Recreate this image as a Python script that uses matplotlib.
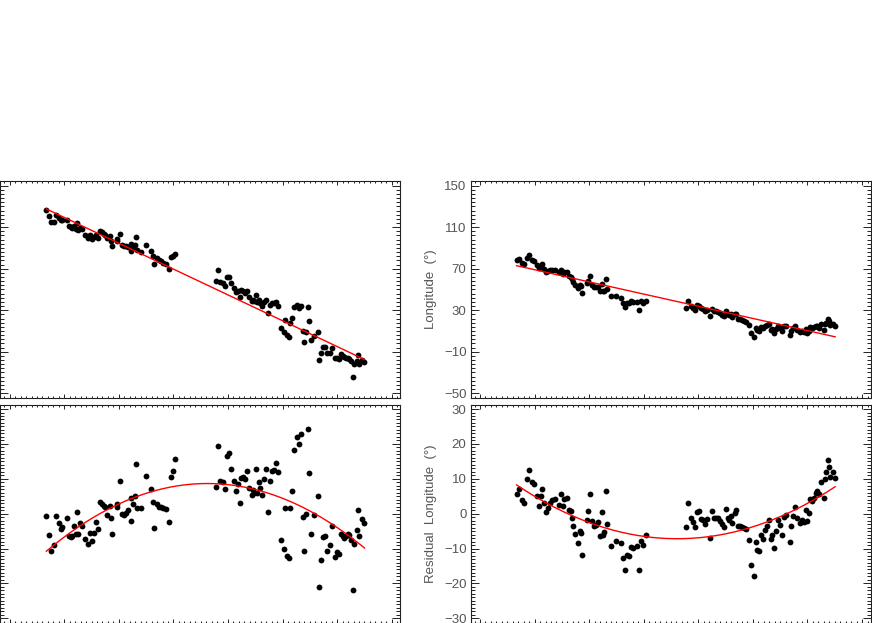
import matplotlib.pyplot as plt
import numpy as np

# time (arbitrary units) and residuals
t_left = [32.0, 32.8, 33.5, 34.2, 35.0, 35.7, 36.3, 36.8, 38.2, 38.8, 39.3, 39.7, 40.3, 40.8, 41.2,
          41.6, 42.0, 42.8, 43.6, 44.6, 45.1, 45.7, 46.2, 47.0, 47.6, 48.2, 48.7, 49.2, 49.7, 50.2,
          51.0, 51.4, 51.8, 53.1, 53.3, 54.0, 54.8, 55.3, 55.8, 56.6, 57.3, 57.5, 58.1, 58.5, 58.8,
          59.3, 60.5, 62.1, 63.4, 64.1, 64.5, 65.3, 65.9, 66.5, 67.2, 68.0, 68.8, 69.4, 70.0, 70.7,
          83.1, 83.7, 84.3, 85.0, 85.7, 86.3, 86.9, 87.5, 88.5, 89.0, 89.5, 90.1, 90.5, 91.1, 91.8,
          92.3, 93.0, 93.7, 94.2, 94.5, 95.0, 95.3, 95.8, 96.3, 96.9, 97.5, 98.1, 98.6, 99.1, 99.8,
          100.3, 100.9, 101.6, 102.6, 103.3, 103.8, 104.3, 104.8, 105.3, 105.9, 106.5, 107.2, 107.9,
          108.5, 109.1, 109.3, 109.9, 110.5, 111.0, 111.6, 112.5, 113.5, 114.0, 114.6, 115.0, 115.6,
          116.4, 117.2, 117.9, 118.6, 119.2, 119.9, 120.5, 121.1, 121.6, 122.1, 122.6, 123.1, 123.6,
          124.1, 124.6, 125.3, 125.6, 126.1, 127.0, 127.6]
res_left = [-0.8, -6.0, -10.6, -8.9, -0.8, -2.7, -4.4, -3.8, -1.1, -6.5, -6.7, -6.3, -3.6, -5.7, 0.4,
            -5.7, -2.7, -3.4, -7.3, -8.6, -5.6, -7.7, -5.6, -2.4, -4.3, 3.4, 2.8, 2.1, 1.8, -0.5,
            2.3, -1.2, -5.8, 2.8, 1.8, 9.3, 0.0, -0.4, 0.2, 1.1, -2.1, 4.5, 2.8, 5.0, 14.1,
            1.6, 1.6, 10.7, 7.1, 3.3, -4.1, 2.8, 1.9, 1.8, 1.6, 1.3, -2.5, 10.5, 12.2, 15.6,
            7.7, 19.3, 9.4, 9.0, 7.1, 16.5, 17.4, 12.8, 9.5, 6.4, 8.5, 3.1, 10.2, 10.4, 9.8,
            12.2, 7.4, 5.3, 6.9, 5.9, 12.8, 5.9, 9.0, 7.4, 5.3, 10.0, 12.8, 0.5, 9.3, 12.2,
            12.6, 14.4, 12.0, -7.5, -10.0, 1.6, -12.2, -12.7, 1.6, 6.6, 18.2, 22.0, 20.0,
            22.9, -0.9, -10.8, -0.1, 24.3, 11.7, -5.7, -0.4, 5.2, -20.9, -13.2, -6.7, -6.3,
            -10.7, -9.1, -3.6, -12.4, -11.1, -11.5, -5.7, -6.3, -7.1, -6.5, -5.7, -6.2, -7.5,
            -22.0, -8.6, -4.8, 1.1, -6.5, -1.5, -2.7]

t_right = [32.0, 32.7, 33.5, 34.3, 35.0, 35.7, 36.5, 37.2, 38.0, 38.8, 39.2, 39.7, 40.3, 40.8, 41.3,
           42.0, 42.7, 43.4, 44.6, 45.2, 45.8, 46.3, 47.0, 47.6, 48.2, 48.5, 49.0, 49.6, 50.3, 51.0,
           51.3, 51.7, 53.0, 53.3, 54.0, 54.6, 55.3, 56.0, 56.6, 57.2, 57.8, 58.1, 58.4, 58.9, 59.2,
           60.4, 62.0, 63.4, 64.0, 64.6, 65.2, 65.8, 66.4, 67.0, 68.2, 68.8, 69.4, 70.0, 70.8,
           83.0, 83.6, 84.3, 85.0, 85.7, 86.2, 86.8, 87.5, 88.1, 88.7, 89.3, 90.0, 90.6, 91.2, 91.8,
           92.4, 93.0, 93.6, 94.3, 94.9, 95.4, 95.8, 96.3, 96.8, 97.5, 98.0, 98.6, 99.2, 99.8, 100.4,
           101.0, 101.7, 102.4, 103.2, 103.8, 104.3, 104.8, 105.3, 105.9, 106.5, 107.2, 107.8, 108.4,
           108.8, 109.3, 109.8, 110.4, 111.0, 111.6, 112.2, 112.8, 114.0, 114.6, 115.1, 115.7, 116.4,
           117.2, 117.8, 118.4, 119.0, 119.4, 119.8, 120.3, 120.8, 121.3, 121.9, 122.4, 122.9, 123.6,
           124.3, 124.8, 125.1, 125.5, 125.8, 126.3, 127.0, 127.7]
res_right = [5.5, 7.2, 4.0, 3.1, 9.8, 12.6, 9.0, 8.5, 5.0, 2.3, 5.0, 7.1, 3.1, 0.4, 1.6,
             3.1, 3.8, 4.2, 2.6, 5.5, 2.3, 4.2, 4.5, 1.0, 0.7, -1.2, -3.4, -5.7, -8.4, -5.1,
             -5.6, -11.9, -1.9, 0.9, 5.6, -2.2, -3.6, -3.2, -2.5, -6.3, 0.4, -6.0, -5.3, 6.5, -2.9,
             -9.2, -7.9, -8.4, -12.7, -16.1, -11.8, -12.2, -9.6, -9.9, -9.2, -16.1, -7.7, -8.9, -6.0,
             -3.8, 3.1, -1.2, -2.5, -3.9, 0.5, 0.7, -1.5, -1.7, -3.0, -1.5, -7.0, 0.7, -1.2, -1.2,
             -1.2, -2.2, -3.0, -3.8, 1.3, -1.2, -1.7, -0.8, -2.7, 0.2, 1.0, -3.6, -3.6, -3.8, -4.1,
             -4.4, -7.5, -14.6, -17.8, -8.2, -10.5, -10.6, -6.2, -7.2, -4.8, -3.6, -1.7, -7.3,
             -6.0, -9.9, -5.1, -1.7, -3.3, -6.0, -1.0, -0.3, -8.2, -3.6, -0.8, 1.9, -1.2,
             -2.7, -1.7, -2.5, 1.0, -2.2, 0.2, 4.3, 3.5, 4.5, 5.9, 6.4, 5.5, 9.0,
             4.5, 10.0, 11.9, 15.3, 13.4, 10.4, 11.9, 10.2]

# linear trend of the upper panels (red lines): intercept, slope
trend_left = (176.1, -1.517)
trend_right = (95.8, -0.716)

xlim = (18.2, 138.4)
xmaj = np.arange(21.0, 138.0, 16.4)
xmin = np.arange(21.0 - 1.64, 138.4, 1.64)


def style(ax, ylim, ymaj, ystep, show_labels):
    ax.set_xlim(*xlim)
    ax.set_ylim(*ylim)
    ax.set_xticks(xmaj)
    ax.set_xticks(xmin, minor=True)
    ax.set_yticks(ymaj)
    ax.set_yticks(np.arange(ymaj[0], ymaj[-1] + 0.01, ystep), minor=True)
    ax.tick_params(which='both', direction='in', top=True, right=True,
                   labelbottom=False, labelleft=show_labels, width=0.7, colors='#222222',
                   labelcolor='#555555', labelsize=9.5, pad=3)
    ax.tick_params(axis='x', which='major', length=3.2)
    ax.tick_params(axis='x', which='minor', length=1.6)
    ax.tick_params(axis='y', which='major', length=5.8)
    ax.tick_params(axis='y', which='minor', length=2.9)
    for s in ax.spines.values():
        s.set_linewidth(0.8)
        s.set_color('#222222')


plt.rcParams['font.family'] = ['Liberation Sans', 'DejaVu Sans']

fig = plt.figure(figsize=(8.72, 6.23), dpi=100)
W = 872.0
H = 623.0
top_rect = (181.0, 397.7)
bot_rect = (405.0, 622.7)

panels = [(0.4, t_left, res_left, trend_left, False),
          (470.7, t_right, res_right, trend_right, True)]

for x0, t, res, trend, labels in panels:
    t = np.array(t)
    res = np.array(res)
    a, b = trend
    lon = a + b * t + res

    ax1 = fig.add_axes([x0 / W, 1 - top_rect[1] / H, 400 / W, (top_rect[1] - top_rect[0]) / H])
    ax1.plot(t, lon, 'o', color='black', markersize=4.2, markeredgewidth=0)
    tt = np.array([t[0], t[-1]])
    ax1.plot(tt, a + b * tt, color='red', lw=1.0)
    style(ax1, (-54.3, 154.5), [-50, -10, 30, 70, 110, 150], 4, labels)

    ax2 = fig.add_axes([x0 / W, 1 - bot_rect[1] / H, 400 / W, (bot_rect[1] - bot_rect[0]) / H])
    ax2.plot(t, res, 'o', color='black', markersize=4.2, markeredgewidth=0)
    c = np.polyfit(t, res, 2)
    tq = np.linspace(t[0], t[-1], 200)
    ax2.plot(tq, np.polyval(c, tq), color='red', lw=1.0)
    style(ax2, (-31.25, 31.15), [-30, -20, -10, 0, 10, 20, 30], 1, labels)

    if labels:
        ax1.set_ylabel('Longitude  (°)', color='#555555', fontsize=9.5)
        ax2.set_ylabel('Residual  Longitude  (°)', color='#555555', fontsize=9.5)
        ax1.yaxis.set_label_coords(-0.084, 0.5)
        ax2.yaxis.set_label_coords(-0.084, 0.5)

plt.savefig('out.png', dpi=100)
